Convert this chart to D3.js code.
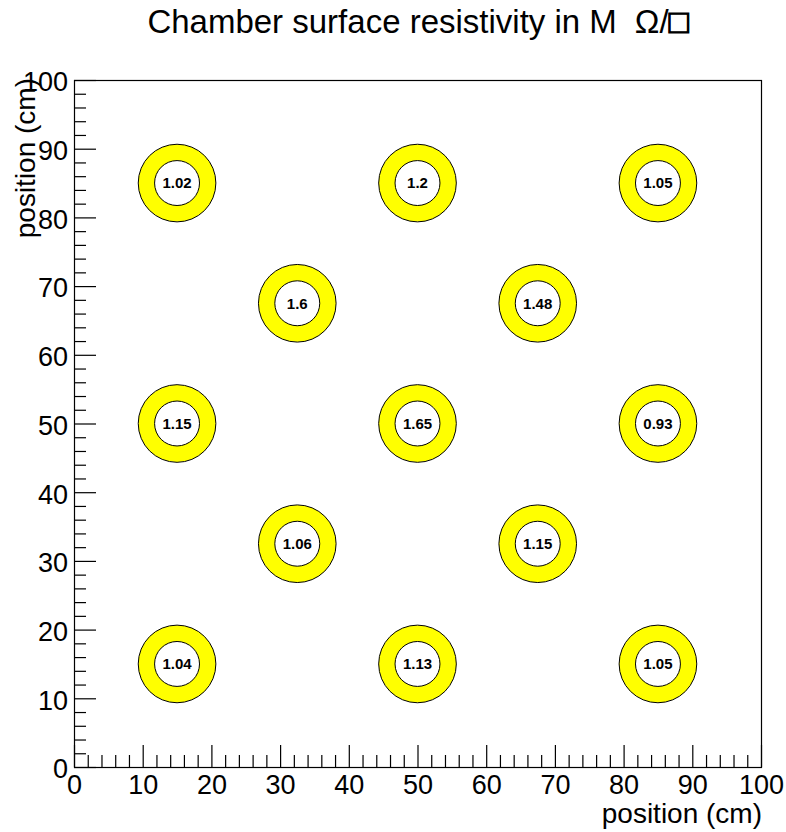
<!DOCTYPE html>
<html><head><meta charset="utf-8">
<script src="https://d3js.org/d3.v7.min.js"></script>
<style>body{margin:0;background:#fff}</style>
</head><body><div id="c"></div>
<script>
// Data
const xPos = [15, 50, 85, 32.5, 67.5, 15, 50, 85, 32.5, 67.5, 15, 50, 85];
const yPos = [85, 85, 85, 67.5, 67.5, 50, 50, 50, 32.5, 32.5, 15, 15, 15];
const values = ["1.02", "1.2", "1.05", "1.6", "1.48", "1.15", "1.65", "0.93", "1.06", "1.15", "1.04", "1.13", "1.05"];
const majorTicks = [0, 10, 20, 30, 40, 50, 60, 70, 80, 90, 100];
const minorTicks = d3.range(0, 101, 2).filter(v => v % 10 !== 0);
const outerR = 5.65, innerR = 3.27;

const W = 786, H = 832;
const L = 74, R = 761, T = 80, B = 767;
const font = "'Liberation Sans', Arial, Helvetica, sans-serif";

const svg = d3.select("#c").append("svg").attr("width", W).attr("height", H)
  .style("font-family", font);

const x = d3.scaleLinear().domain([0, 100]).range([L, R]);
const y = d3.scaleLinear().domain([0, 100]).range([B, T]);

// frame
svg.append("rect").attr("x", L + 0.5).attr("y", T + 0.5)
  .attr("width", R - L).attr("height", B - T)
  .attr("fill", "none").attr("stroke", "#000").attr("stroke-width", 1.2);

// rings
const g = svg.append("g");
const pts = xPos.map((d, i) => ({x: d, y: yPos[i], v: values[i]}));
const pxPerUnit = (R - L) / 100;
g.selectAll("circle.o").data(pts).join("circle").attr("class", "o")
  .attr("cx", d => x(d.x)).attr("cy", d => y(d.y)).attr("r", outerR * pxPerUnit)
  .attr("fill", "#ffff00").attr("stroke", "#000").attr("stroke-width", 1);
g.selectAll("circle.i").data(pts).join("circle").attr("class", "i")
  .attr("cx", d => x(d.x)).attr("cy", d => y(d.y)).attr("r", innerR * pxPerUnit)
  .attr("fill", "#fff").attr("stroke", "#000").attr("stroke-width", 1);
g.selectAll("text").data(pts).join("text")
  .attr("x", d => x(d.x)).attr("y", d => y(d.y)).attr("dy", "0.36em")
  .attr("text-anchor", "middle").attr("font-weight", "bold").attr("font-size", 15)
  .text(d => d.v);

// axes
const fs = 27;
const xAxisMajor = d3.axisBottom(x).tickValues(majorTicks).tickSizeInner(-22).tickSizeOuter(0)
  .tickPadding(8).tickFormat(d3.format("d"));
const xg = svg.append("g").attr("transform", `translate(0,${B})`).call(xAxisMajor);
xg.select(".domain").remove();
xg.selectAll("text").attr("font-size", fs).attr("font-family", font);
const xMinor = svg.append("g").attr("transform", `translate(0,${B})`)
  .call(d3.axisBottom(x).tickValues(minorTicks).tickSizeInner(-12).tickSizeOuter(0).tickFormat(""));
xMinor.select(".domain").remove();

const yAxisMajor = d3.axisLeft(y).tickValues(majorTicks).tickSizeInner(-22).tickSizeOuter(0)
  .tickPadding(6).tickFormat(d3.format("d"));
const yg = svg.append("g").attr("transform", `translate(${L},0)`).call(yAxisMajor);
yg.select(".domain").remove();
yg.selectAll("text").attr("font-size", fs).attr("font-family", font).attr("dy", "0.4em");
const yMinor = svg.append("g").attr("transform", `translate(${L},0)`)
  .call(d3.axisLeft(y).tickValues(minorTicks).tickSizeInner(-12).tickSizeOuter(0).tickFormat(""));
yMinor.select(".domain").remove();
svg.selectAll(".tick line").attr("stroke", "#000").attr("stroke-width", 1.2);

// axis titles
svg.append("text").attr("x", R + 1).attr("y", 823).attr("text-anchor", "end")
  .attr("font-size", 28).text("position (cm)");
svg.append("text").attr("transform", `translate(35,${T - 2}) rotate(-90)`)
  .attr("text-anchor", "end").attr("font-size", 28).text("position (cm)");

// title
const title = svg.append("text").attr("x", 418).attr("y", 33).attr("text-anchor", "middle")
  .attr("font-size", 33).style("white-space", "pre");
title.append("tspan").text("Chamber surface resistivity in M");
title.append("tspan").attr("dx", 18).text("Ω/");
title.append("tspan").attr("stroke", "#000").attr("stroke-width", 1.2).text("□");
</script></body></html>
